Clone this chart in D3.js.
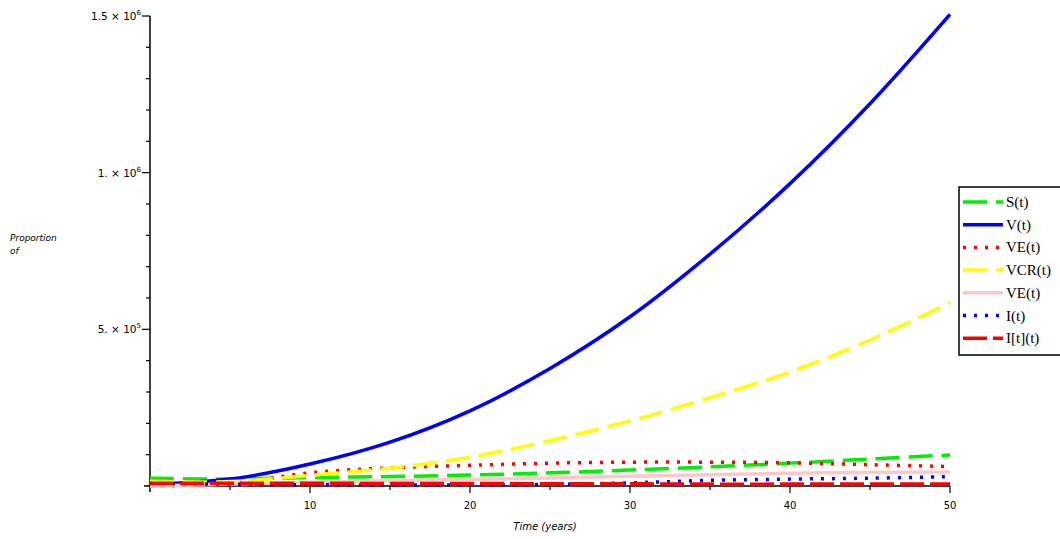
<!DOCTYPE html>
<html>
<head>
<meta charset="utf-8">
<script src="https://cdn.jsdelivr.net/npm/d3@7"></script>
<style>
  body { margin: 0; background: #fff; }
  svg { display: block; }
</style>
</head>
<body>
<div id="canvas"></div>
<script>
// years sampled from the plot
const years = [0, 5, 10, 15, 20, 25, 30, 35, 40, 45, 50];

const S   = [25000, 22000, 27000, 30000, 35000, 42000, 51000, 61000, 73000, 86000, 99000];
const V   = [5000, 22000, 70000, 140000, 240000, 375000, 540000, 740000, 965000, 1220000, 1505000];
const VE  = [0, 8000, 42000, 58000, 66000, 73000, 76000, 76000, 74000, 68000, 62000];
const VCR = [15000, 14000, 34000, 57000, 92000, 145000, 208000, 282000, 364000, 466000, 585000];
const VE2 = [0, 6000, 12000, 17000, 21000, 26000, 31000, 36000, 41000, 43000, 45000];
const I   = [8000, 6000, 4000, 3000, 3000, 5000, 10000, 18000, 22000, 25000, 30000];
const It  = [9000, 9000, 9000, 8000, 8000, 7000, 7000, 6000, 6000, 6000, 6000];

const seriesNames = ["S(t)", "V(t)", "VE(t)", "VCR(t)", "VE(t)", "I(t)", "I[t](t)"];
const xTickLabels = ["10", "20", "30", "40", "50"];

const series = [
  { name: seriesNames[0], values: S,   color: "#00ee00", dash: "24,9" },
  { name: seriesNames[1], values: V,   color: "#0000ff", dash: null },
  { name: seriesNames[2], values: VE,  color: "#ff0000", dash: "3,8" },
  { name: seriesNames[3], values: VCR, color: "#ffff00", dash: "24,9" },
  { name: seriesNames[4], values: VE2, color: "#ffc8c8", dash: null },
  { name: seriesNames[5], values: I,   color: "#0000ff", dash: "3,8" },
  { name: seriesNames[6], values: It,  color: "#ff0000", dash: "24,6" }
];

const W = 1060, H = 539;
const svg = d3.select("#canvas").append("svg")
  .attr("width", W)
  .attr("height", H);

const x = d3.scaleLinear().domain([0, 50]).range([150, 950]);
const y = d3.scaleLinear().domain([0, 1500000]).range([486, 16]);

// axes
const axisColor = "#000";
const g = svg.append("g");

g.append("line")
  .attr("x1", x(0) - 6).attr("x2", x(50))
  .attr("y1", y(0)).attr("y2", y(0))
  .attr("stroke", axisColor).attr("stroke-width", 1.5);
g.append("line")
  .attr("x1", x(0)).attr("x2", x(0))
  .attr("y1", y(1500000)).attr("y2", y(0) + 6)
  .attr("stroke", axisColor).attr("stroke-width", 1.5);

// x ticks
d3.range(5, 51, 5).forEach(t => {
  const major = t % 10 === 0;
  g.append("line")
    .attr("x1", x(t)).attr("x2", x(t))
    .attr("y1", y(0)).attr("y2", y(0) + (major ? 7 : 4))
    .attr("stroke", axisColor).attr("stroke-width", 1.2);
});
xTickLabels.forEach(lbl => {
  g.append("text")
    .attr("x", x(+lbl)).attr("y", y(0) + 23)
    .attr("text-anchor", "middle")
    .attr("font-family", "DejaVu Sans")
    .attr("font-size", 10)
    .text(lbl);
});

// y ticks
d3.range(100000, 1500001, 100000).forEach(v => {
  const major = v % 500000 === 0;
  g.append("line")
    .attr("x1", x(0) - (major ? 8 : 4)).attr("x2", x(0))
    .attr("y1", y(v)).attr("y2", y(v))
    .attr("stroke", axisColor).attr("stroke-width", 1.2);
});
const yTicks = [
  { v: 500000, m: "5.", e: "5" },
  { v: 1000000, m: "1.", e: "6" },
  { v: 1500000, m: "1.5", e: "6" }
];
yTicks.forEach(tk => {
  const t = g.append("text")
    .attr("x", x(0) - 9).attr("y", y(tk.v) + 4)
    .attr("text-anchor", "end")
    .attr("font-family", "DejaVu Sans")
    .attr("font-size", 10.5);
  t.append("tspan").text(tk.m + " \u00d7 10");
  t.append("tspan").attr("dy", -5).attr("font-size", 7).text(tk.e);
});

// axis titles
svg.append("text")
  .attr("x", 10).attr("y", 241)
  .attr("font-family", "DejaVu Sans")
  .attr("font-style", "italic")
  .attr("font-size", 9)
  .text("Proportion");
svg.append("text")
  .attr("x", 10).attr("y", 254)
  .attr("font-family", "DejaVu Sans")
  .attr("font-style", "italic")
  .attr("font-size", 9)
  .text("of");
svg.append("text")
  .attr("x", 545).attr("y", 530)
  .attr("text-anchor", "middle")
  .attr("font-family", "DejaVu Sans")
  .attr("font-style", "italic")
  .attr("font-size", 10)
  .text("Time (years)");

// curves
const line = d3.line()
  .x((d, i) => x(years[i]))
  .y(d => y(d))
  .curve(d3.curveCatmullRom);

svg.append("g")
  .selectAll("path")
  .data(series)
  .enter()
  .append("path")
  .attr("d", d => line(d.values))
  .attr("fill", "none")
  .attr("stroke", d => d.color)
  .attr("stroke-width", 3.5)
  .attr("stroke-dasharray", d => d.dash);

// legend
const lg = svg.append("g").attr("transform", "translate(959,187)");
lg.append("rect")
  .attr("width", 120).attr("height", 168)
  .attr("fill", "#fff")
  .attr("stroke", "#000").attr("stroke-width", 1.5);

const rows = lg.selectAll("g.row")
  .data(series)
  .enter()
  .append("g")
  .attr("class", "row")
  .attr("transform", (d, i) => `translate(0,${15 + i * 22.7})`);

rows.append("line")
  .attr("x1", 4).attr("x2", 44)
  .attr("stroke", d => d.color)
  .attr("stroke-width", 3.5)
  .attr("stroke-dasharray", d => d.dash);

rows.append("text")
  .attr("x", 47).attr("y", 5)
  .attr("font-family", "Liberation Serif")
  .attr("font-size", 15)
  .text(d => d.name);
</script>
</body>
</html>
